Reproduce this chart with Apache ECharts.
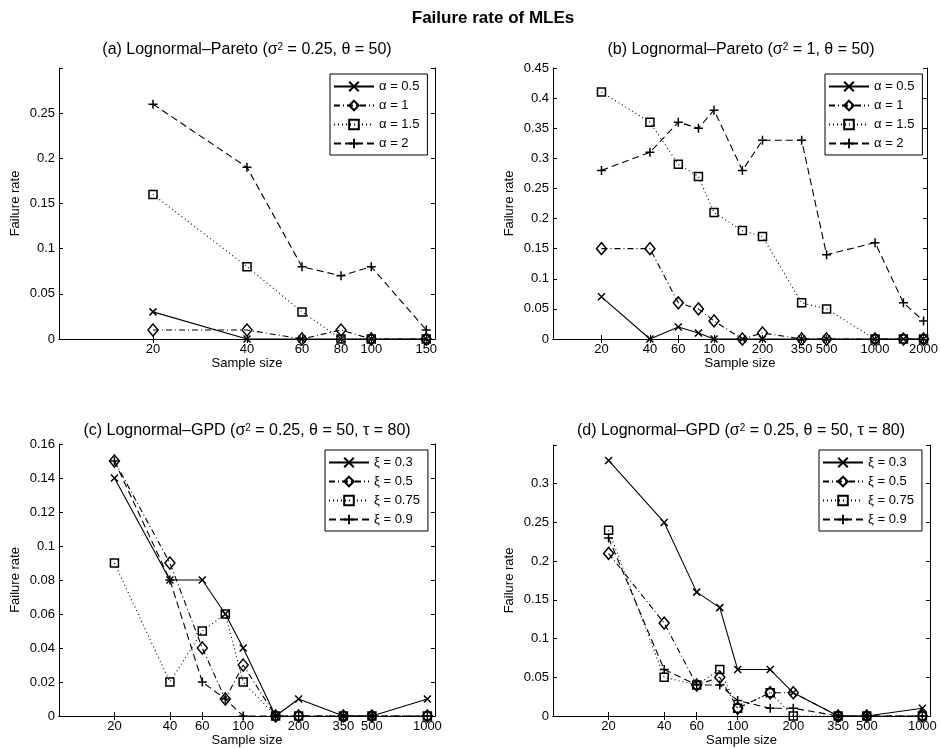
<!DOCTYPE html>
<html>
<head>
<meta charset="utf-8">
<script src="https://cdn.jsdelivr.net/npm/echarts@6/dist/echarts.min.js"></script>
<style>
  html, body { margin: 0; padding: 0; background: #fff; }
  #chart { width: 941px; height: 749px; }
</style>
</head>
<body>
<div id="chart"></div>
<script>
// sample sizes per panel
const xA = [20, 40, 60, 80, 100, 150];
const xB = [20, 40, 60, 80, 100, 150, 200, 350, 500, 1000, 1500, 2000];
const xC = [20, 40, 60, 80, 100, 150, 200, 350, 500, 1000];
const xD = [20, 40, 60, 80, 100, 150, 200, 350, 500, 1000];

// tick labels on the x axes
const ticksA = [20, 40, 60, 80, 100, 150];
const ticksB = [20, 40, 60, 100, 200, 350, 500, 1000, 2000];
const ticksC = [20, 40, 60, 100, 200, 350, 500, 1000];
const ticksD = [20, 40, 60, 100, 200, 350, 500, 1000];

// (a) Lognormal-Pareto, sigma^2 = 0.25
const a_05 = [0.03, 0, 0, 0, 0, 0];
const a_1 = [0.01, 0.01, 0, 0.01, 0, 0];
const a_15 = [0.16, 0.08, 0.03, 0, 0, 0];
const a_2 = [0.26, 0.19, 0.08, 0.07, 0.08, 0.01];

// (b) Lognormal-Pareto, sigma^2 = 1
const b_05 = [0.07, 0, 0.02, 0.01, 0, 0, 0, 0, 0, 0, 0, 0];
const b_1 = [0.15, 0.15, 0.06, 0.05, 0.03, 0, 0.01, 0, 0, 0, 0, 0];
const b_15 = [0.41, 0.36, 0.29, 0.27, 0.21, 0.18, 0.17, 0.06, 0.05, 0, 0, 0];
const b_2 = [0.28, 0.31, 0.36, 0.35, 0.38, 0.28, 0.33, 0.33, 0.14, 0.16, 0.06, 0.03];

// (c) Lognormal-GPD
const c_03 = [0.14, 0.08, 0.08, 0.06, 0.04, 0, 0.01, 0, 0, 0.01];
const c_05 = [0.15, 0.09, 0.04, 0.01, 0.03, 0, 0, 0, 0, 0];
const c_075 = [0.09, 0.02, 0.05, 0.06, 0.02, 0, 0, 0, 0, 0];
const c_09 = [0.15, 0.08, 0.02, 0.01, 0, 0, 0, 0, 0, 0];

// (d) Lognormal-GPD
const d_03 = [0.33, 0.25, 0.16, 0.14, 0.06, 0.06, 0.03, 0, 0, 0.01];
const d_05 = [0.21, 0.12, 0.04, 0.05, 0.01, 0.03, 0.03, 0, 0, 0];
const d_075 = [0.24, 0.05, 0.04, 0.06, 0.01, 0.03, 0, 0, 0, 0];
const d_09 = [0.23, 0.06, 0.04, 0.04, 0.02, 0.01, 0.01, 0, 0, 0];

const alphaNames = ['α = 0.5', 'α = 1', 'α = 1.5', 'α = 2'];
const xiNames = ['ξ = 0.3', 'ξ = 0.5', 'ξ = 0.75', 'ξ = 0.9'];

const FONT = '"Liberation Sans", Arial, Helvetica, sans-serif';

// line style + marker for each of the 4 series in a panel
const looks = [
  { type: 'solid', symbol: 'path://M0,0L10,10M10,0L0,10', size: 7 },
  { type: [6, 3, 1, 3], symbol: 'path://M5,0L10,6L5,12L0,6Z', size: [10, 12] },
  { type: [1, 3], symbol: 'rect', size: 8 },
  { type: [7, 4], symbol: 'path://M5,0L5,10M0,5L10,5', size: 9 }
];

const grids = [
  { left: 59, top: 68, width: 376, height: 271 },
  { left: 553, top: 68, width: 377, height: 271 },
  { left: 59, top: 444, width: 376, height: 272 },
  { left: 553, top: 445, width: 377, height: 271 }
];

const xMax = [160, 2100, 1100, 1100];
const xTicks = [ticksA, ticksB, ticksC, ticksD];
const yMax = [0.3, 0.45, 0.16, 0.35];
const yStep = [0.05, 0.05, 0.02, 0.05];
const yHideTop = [true, false, false, true];

const xAxes = [];
const yAxes = [];
grids.forEach((g, i) => {
  xAxes.push({
    type: 'log', logBase: 10, gridIndex: i, min: 10, max: xMax[i], position: 'bottom',
    name: 'Sample size', nameLocation: 'middle', nameGap: 18,
    nameTextStyle: { fontFamily: FONT, fontSize: 13, color: '#000' },
    axisLine: { lineStyle: { color: '#000', width: 1 } },
    axisTick: { inside: true, length: 4, customValues: xTicks[i], lineStyle: { color: '#000' } },
    axisLabel: { customValues: xTicks[i], formatter: v => String(v), fontFamily: FONT, fontSize: 13, color: '#000', margin: 4 },
    splitLine: { show: false }
  });
  xAxes.push({
    type: 'log', logBase: 10, gridIndex: i, min: 10, max: xMax[i], position: 'top',
    axisLine: { lineStyle: { color: '#000', width: 1 } },
    axisTick: { inside: true, length: 4, customValues: xTicks[i], lineStyle: { color: '#000' } },
    axisLabel: { show: false },
    splitLine: { show: false }
  });
  const hide = yHideTop[i], top = yMax[i];
  yAxes.push({
    type: 'value', gridIndex: i, min: 0, max: top, interval: yStep[i], position: 'left',
    name: 'Failure rate', nameLocation: 'middle', nameGap: 37,
    nameTextStyle: { fontFamily: FONT, fontSize: 13, color: '#000' },
    axisLine: { show: true, lineStyle: { color: '#000', width: 1 } },
    axisTick: { show: true, inside: true, length: 4, lineStyle: { color: '#000' } },
    axisLabel: {
      fontFamily: FONT, fontSize: 13, color: '#000', margin: 4,
      formatter: v => (hide && Math.abs(v - top) < 1e-9) ? '' : String(+v.toFixed(3))
    },
    splitLine: { show: false }
  });
  yAxes.push({
    type: 'value', gridIndex: i, min: 0, max: top, interval: yStep[i], position: 'right',
    axisLine: { show: true, lineStyle: { color: '#000', width: 1 } },
    axisTick: { show: true, inside: true, length: 4, lineStyle: { color: '#000' } },
    axisLabel: { show: false },
    splitLine: { show: false }
  });
});

function makeSeries(panel, names, xs, ys) {
  return ys.map((vals, k) => ({
    type: 'line',
    name: names[k],
    xAxisIndex: panel * 2,
    yAxisIndex: panel * 2,
    data: xs.map((x, j) => [x, vals[j]]),
    symbol: looks[k].symbol,
    symbolSize: looks[k].size,
    showAllSymbol: true,
    clip: false,
    lineStyle: { color: '#000', width: 1.1, type: looks[k].type },
    itemStyle: { color: 'rgba(255,255,255,0)', borderColor: '#000', borderWidth: 1.5 },
    emphasis: { disabled: true },
    animation: false
  }));
}

const series = [].concat(
  makeSeries(0, alphaNames, xA, [a_05, a_1, a_15, a_2]),
  makeSeries(1, alphaNames, xB, [b_05, b_1, b_15, b_2]),
  makeSeries(2, xiNames, xC, [c_03, c_05, c_075, c_09]),
  makeSeries(3, xiNames, xD, [d_03, d_05, d_075, d_09])
);

function legendAt(left, top, names) {
  return {
    data: names, left: left, top: top, orient: 'vertical',
    itemWidth: 40, itemHeight: 12, itemGap: 6,
    padding: [6, 8, 5, 3],
    borderColor: '#000', borderWidth: 1, backgroundColor: '#fff',
    selectedMode: false,
    textStyle: { fontFamily: FONT, fontSize: 13, color: '#000' }
  };
}

function subTitle(x, y, head, tail) {
  return {
    type: 'text', x: x, y: y,
    style: {
      text: head + '{s|2}' + tail,
      rich: { s: { fontSize: 10, verticalAlign: 'top', fontFamily: FONT, fill: '#000' } },
      font: '16px ' + FONT, fill: '#000', align: 'center', verticalAlign: 'middle'
    }
  };
}

const chart = echarts.init(document.getElementById('chart'));
chart.setOption({
  animation: false,
  backgroundColor: '#fff',
  grid: grids,
  xAxis: xAxes,
  yAxis: yAxes,
  legend: [
    legendAt(330, 74, alphaNames),
    legendAt(825, 74, alphaNames),
    legendAt(325, 450, xiNames),
    legendAt(819, 450, xiNames)
  ],
  graphic: [
    {
      type: 'text', x: 493, y: 18,
      style: { text: 'Failure rate of MLEs', font: 'bold 17px ' + FONT, fill: '#000', align: 'center', verticalAlign: 'middle' }
    },
    subTitle(247, 50, '(a) Lognormal–Pareto (σ', ' = 0.25, θ = 50)'),
    subTitle(741, 50, '(b) Lognormal–Pareto (σ', ' = 1, θ = 50)'),
    subTitle(247, 431, '(c) Lognormal–GPD (σ', ' = 0.25, θ = 50, τ = 80)'),
    subTitle(741, 431, '(d) Lognormal–GPD (σ', ' = 0.25, θ = 50, τ = 80)')
  ],
  series: series
});
</script>
</body>
</html>
